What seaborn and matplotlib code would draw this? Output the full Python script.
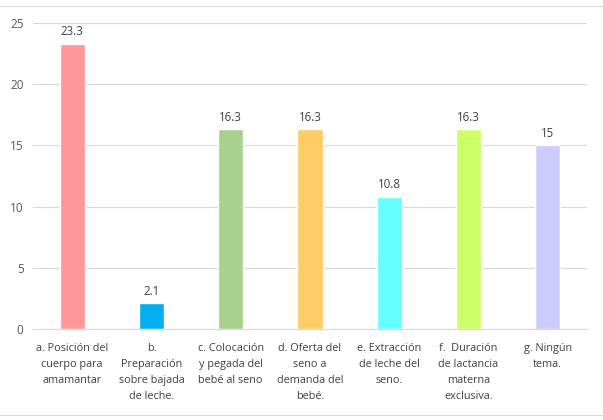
import seaborn as sb
import matplotlib.pyplot as plt
import pandas as pd

categories = ['a. Posición del\ncuerpo para\namamantar',
              'b.\nPreparación\nsobre bajada\nde leche.',
              'c. Colocación\ny pegada del\nbebé al seno',
              'd. Oferta del\nseno a\ndemanda del\nbebé.',
              'e. Extracción\nde leche del\nseno.',
              'f.  Duración\nde lactancia\nmaterna\nexclusiva.',
              'g. Ningún\ntema.']
values = [23.3, 2.1, 16.3, 16.3, 10.8, 16.3, 15]
value_labels = ['23.3', '2.1', '16.3', '16.3', '10.8', '16.3', '15']
colors = ['#FF9999', '#00B0F0', '#A9D18E', '#FFCC66',
          '#66FFFF', '#CCFF66', '#CCCCFF']

df = pd.DataFrame({'category': categories, 'value': values})

sb.set_style('white')
plt.rcParams['font.family'] = ['Open Sans', 'DejaVu Sans']

fig = plt.figure(figsize=(6.03, 4.2), dpi=100)
ax = fig.add_axes([0.054, 0.2167, 0.92, 0.7286])

sb.barplot(data=df, x='category', y='value', hue='category',
           palette=colors, width=0.32, saturation=1, legend=False, ax=ax)

for i, (v, lab) in enumerate(zip(values, value_labels)):
    ax.text(i, v + 0.45, lab, ha='center', va='bottom',
            fontsize=8.3, color='#404040')

ax.set_ylim(0, 25)
ax.set_xlim(-0.5, len(values) - 0.5)
ax.set_yticks(range(0, 26, 5))
ax.yaxis.grid(True, color='#D9D9D9', linewidth=0.8)
ax.set_axisbelow(True)
ax.tick_params(axis='y', labelsize=8.5, labelcolor='#595959', length=0, pad=6.5)
ax.tick_params(axis='x', labelsize=7.8, labelcolor='#404040', length=0, pad=10)
for t in ax.get_xticklabels():
    t.set_linespacing(1.62)
ax.set_xlabel('')
ax.set_ylabel('')
sb.despine(ax=ax, left=True, top=True, right=True)
ax.spines['bottom'].set_color('#D9D9D9')

# outer chart frame lines
fig.add_artist(plt.Line2D([0, 1], [0.986, 0.986], color='#D9D9D9', linewidth=0.8))
fig.add_artist(plt.Line2D([0, 1], [0.012, 0.012], color='#D9D9D9', linewidth=0.8))

plt.savefig('out.png', dpi=100)
